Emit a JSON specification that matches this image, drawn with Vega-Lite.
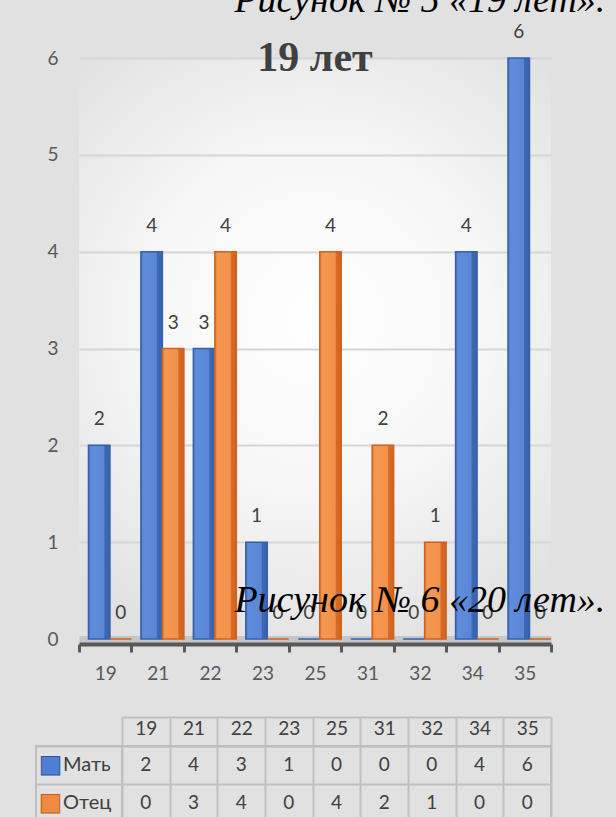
{
  "$schema": "https://vega.github.io/schema/vega-lite/v6.json",
  "autosize": "none",
  "padding": {"left": 36, "top": 58, "right": 580, "bottom": 759},
  "background": "#e1e1e1",
  "config": {"view": {"stroke": null}, "font": "Lato"},
  "datasets": {
    "d": [
      {"age": "19", "series": "Мать", "value": 2},
      {"age": "19", "series": "Отец", "value": 0},
      {"age": "21", "series": "Мать", "value": 4},
      {"age": "21", "series": "Отец", "value": 3},
      {"age": "22", "series": "Мать", "value": 3},
      {"age": "22", "series": "Отец", "value": 4},
      {"age": "23", "series": "Мать", "value": 1},
      {"age": "23", "series": "Отец", "value": 0},
      {"age": "25", "series": "Мать", "value": 0},
      {"age": "25", "series": "Отец", "value": 4},
      {"age": "31", "series": "Мать", "value": 0},
      {"age": "31", "series": "Отец", "value": 2},
      {"age": "32", "series": "Мать", "value": 0},
      {"age": "32", "series": "Отец", "value": 1},
      {"age": "34", "series": "Мать", "value": 4},
      {"age": "34", "series": "Отец", "value": 0},
      {"age": "35", "series": "Мать", "value": 6},
      {"age": "35", "series": "Отец", "value": 0}
    ],
    "rows": [
      {"series": "Мать", "sym": "■"},
      {"series": "Отец", "sym": "■"}
    ],
    "title": [{"text": "19 лет"}],
    "cap5": [{"text": "Рисунок № 5 «19 лет»."}],
    "cap6": [{"text": "Рисунок № 6 «20 лет»."}]
  },
  "bounds": "flush",
  "spacing": 688,
  "vconcat": [
    {
      "bounds": "flush",
      "spacing": 0,
      "hconcat": [
        {
          "width": 43,
          "height": 581,
          "data": {"values": [{}]},
          "mark": {"type": "text"},
          "encoding": {"text": {"value": ""}}
        },
        {
          "width": 472,
          "height": 581,
          "view": {
            "stroke": null,
            "fill": {
              "gradient": "radial",
              "x1": 0.5, "y1": 0.45, "r1": 0,
              "x2": 0.5, "y2": 0.45, "r2": 0.6,
              "stops": [
                {"offset": 0, "color": "#ffffff"},
                {"offset": 0.5, "color": "#f6f6f6"},
                {"offset": 1, "color": "#e1e1e1"}
              ]
            }
          },
          "data": {"name": "d"},
          "layer": [
            {
              "transform": [{"filter": "datum.series === 'Мать'"}],
              "mark": {
                "type": "bar",
                "stroke": "#3560ad",
                "strokeWidth": 1.5,
                "fill": {
                  "gradient": "linear", "x1": 0, "y1": 0, "x2": 1, "y2": 0,
                  "stops": [
                    {"offset": 0, "color": "#4a76c4"},
                    {"offset": 0.12, "color": "#5f8ddb"},
                    {"offset": 0.72, "color": "#5a87d5"},
                    {"offset": 0.76, "color": "#3f68b3"},
                    {"offset": 1, "color": "#3a62ab"}
                  ]
                }
              },
              "encoding": {
                "x": {
                  "field": "age", "type": "nominal", "sort": null,
                  "scale": {"paddingInner": 0, "paddingOuter": 0},
                  "axis": {
                    "title": null, "labelAngle": 0, "tickBand": "extent", "offset": 5,
                    "domainColor": "#595959", "domainWidth": 4,
                    "tickColor": "#595959", "tickWidth": 3, "tickSize": 8,
                    "labelFontSize": 19, "labelColor": "#595959", "labelPadding": 12,
                    "grid": false
                  }
                },
                "xOffset": {
                  "field": "series", "type": "nominal",
                  "scale": {"domain": ["Мать", "Отец"], "paddingInner": 0, "paddingOuter": 0.22, "align": 1}
                },
                "y": {
                  "field": "value", "type": "quantitative",
                  "scale": {"domain": [0, 6], "nice": false},
                  "axis": {
                    "title": null, "values": [0, 1, 2, 3, 4, 5, 6], "format": "d",
                    "domain": false, "ticks": false, "tickSize": 0,
                    "labelPadding": 21, "labelFontSize": 19, "labelColor": "#595959",
                    "grid": true,
                    "gridColor": {"condition": {"test": "datum.value === 0", "value": "#c6c6c6"}, "value": "#d6d6d6"},
                    "gridWidth": {"condition": {"test": "datum.value === 0", "value": 7}, "value": 2}
                  }
                }
              }
            },
            {
              "transform": [{"filter": "datum.series === 'Отец'"}],
              "mark": {
                "type": "bar",
                "stroke": "#cd6320",
                "strokeWidth": 1.5,
                "fill": {
                  "gradient": "linear", "x1": 0, "y1": 0, "x2": 1, "y2": 0,
                  "stops": [
                    {"offset": 0, "color": "#e97a32"},
                    {"offset": 0.12, "color": "#f5984f"},
                    {"offset": 0.72, "color": "#f3924b"},
                    {"offset": 0.76, "color": "#d86b24"},
                    {"offset": 1, "color": "#d06420"}
                  ]
                }
              },
              "encoding": {
                "x": {"field": "age", "type": "nominal", "sort": null},
                "xOffset": {"field": "series", "type": "nominal"},
                "y": {"field": "value", "type": "quantitative"}
              }
            },
            {
              "mark": {"type": "text", "dy": -26, "fontSize": 19, "color": "#404040"},
              "encoding": {
                "x": {"field": "age", "type": "nominal", "sort": null},
                "xOffset": {"field": "series", "type": "nominal"},
                "y": {"field": "value", "type": "quantitative"},
                "text": {"field": "value", "type": "quantitative"}
              }
            },
            {
              "data": {"name": "title"},
              "mark": {"type": "text", "font": "Liberation Serif", "fontSize": 42, "fontWeight": "bold", "color": "#404040", "baseline": "middle"},
              "encoding": {
                "y": {"datum": 6, "type": "quantitative"},
                "text": {"field": "text"}
              }
            },
            {
              "data": {"name": "cap5"},
              "mark": {"type": "text", "font": "Liberation Serif", "fontSize": 38, "fontStyle": "italic", "color": "#000000", "baseline": "alphabetic"},
              "encoding": {
                "x": {"datum": "32", "type": "nominal"},
                "y": {"datum": 6.475, "type": "quantitative"},
                "text": {"field": "text"}
              }
            },
            {
              "data": {"name": "cap6"},
              "mark": {"type": "text", "font": "Liberation Serif", "fontSize": 38, "fontStyle": "italic", "color": "#000000", "baseline": "alphabetic"},
              "encoding": {
                "x": {"datum": "32", "type": "nominal"},
                "y": {"datum": 0.279, "type": "quantitative"},
                "text": {"field": "text"}
              }
            }
          ]
        }
      ]
    },
    {
      "bounds": "flush",
      "spacing": 0,
      "hconcat": [
        {
          "width": 86,
          "height": 76,
          "view": {"stroke": "#bfbfbf", "strokeWidth": 2},
          "data": {"name": "rows"},
          "encoding": {
            "y": {
              "field": "series", "type": "nominal", "sort": ["Мать", "Отец"],
              "scale": {"paddingInner": 0, "paddingOuter": 0},
              "axis": {"title": null, "labels": false, "ticks": false, "domain": false, "grid": true, "tickBand": "extent", "gridColor": "#bfbfbf", "gridWidth": 2}
            }
          },
          "layer": [
            {
              "mark": {"type": "text", "align": "center", "baseline": "middle", "dx": -28.5, "font": "DejaVu Sans", "fontSize": 24, "strokeWidth": 1},
              "encoding": {
                "text": {"field": "sym"},
                "color": {"field": "series", "type": "nominal", "scale": {"domain": ["Мать", "Отец"], "range": ["#4f7fd4", "#ef8a45"]}, "legend": null},
                "stroke": {"field": "series", "type": "nominal", "scale": {"domain": ["Мать", "Отец"], "range": ["#2f5597", "#c55a11"]}, "legend": null}
              }
            },
            {
              "mark": {"type": "text", "align": "left", "baseline": "middle", "dx": -16, "fontSize": 20, "color": "#404040"},
              "encoding": {"text": {"field": "series"}}
            }
          ]
        },
        {
          "width": 429,
          "height": 76,
          "view": {"stroke": "#bfbfbf", "strokeWidth": 2},
          "data": {"name": "d"},
          "layer": [
            {
              "mark": {"type": "text", "fontSize": 19, "color": "#404040"},
              "encoding": {
                "x": {
                  "field": "age", "type": "nominal", "sort": null,
                  "scale": {"paddingInner": 0, "paddingOuter": 0},
                  "axis": {
                    "orient": "top", "title": null, "labelAngle": 0,
                    "labelFontSize": 19, "labelColor": "#404040", "labelPadding": -21,
                    "tickBand": "extent", "tickSize": 29, "tickColor": "#bfbfbf", "tickWidth": 2,
                    "domainColor": "#bfbfbf", "domainWidth": 2,
                    "grid": true, "gridColor": "#bfbfbf", "gridWidth": 2
                  }
                },
                "y": {
                  "field": "series", "type": "nominal", "sort": ["Мать", "Отец"],
                  "scale": {"paddingInner": 0, "paddingOuter": 0},
                  "axis": {"title": null, "labels": false, "ticks": false, "domain": false, "grid": true, "tickBand": "extent", "gridColor": "#bfbfbf", "gridWidth": 2}
                },
                "text": {"field": "value", "type": "quantitative"}
              }
            },
            {
              "mark": {"type": "text", "opacity": 0},
              "encoding": {
                "x": {
                  "field": "age", "type": "nominal", "sort": null,
                  "axis": {"orient": "top", "offset": 29, "title": null, "labels": false, "ticks": false, "grid": false, "domain": true, "domainColor": "#bfbfbf", "domainWidth": 2}
                },
                "y": {"field": "series", "type": "nominal", "sort": ["Мать", "Отец"]},
                "text": {"field": "value", "type": "quantitative"}
              }
            }
          ],
          "resolve": {"axis": {"x": "independent"}}
        }
      ]
    }
  ]
}
